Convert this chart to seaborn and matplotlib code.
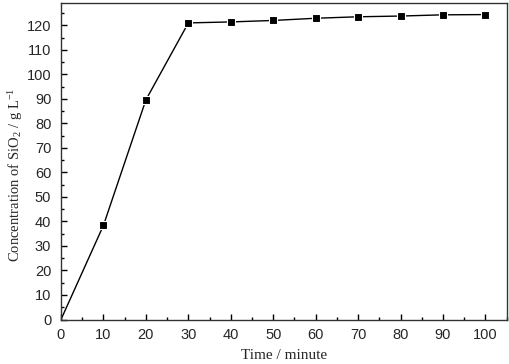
import matplotlib
matplotlib.use("Agg")
import matplotlib.pyplot as plt
import seaborn as sns
import pandas as pd
from matplotlib.ticker import MultipleLocator

time_min = [0, 10, 20, 30, 40, 50, 60, 70, 80, 90, 100]
conc = [0, 38.4, 89.6, 121.0, 121.4, 122.0, 122.9, 123.5, 123.8, 124.3, 124.4]

df = pd.DataFrame({"time": time_min, "conc": conc})

sns.set_theme(style="ticks")
plt.rcParams['font.family'] = ['Liberation Sans', 'DejaVu Sans']
plt.rcParams['mathtext.fontset'] = 'custom'
plt.rcParams['mathtext.rm'] = 'Liberation Serif'
plt.rcParams['mathtext.it'] = 'Liberation Serif:italic'
plt.rcParams['mathtext.default'] = 'rm'

fig = plt.figure(figsize=(5.1, 3.64), dpi=100)
ax = fig.add_axes([61/510, 1-319.5/364, (506.7-61)/510, (319.5-3.3)/364])

sns.lineplot(data=df, x="time", y="conc", ax=ax, color="black", lw=1.0)
sns.scatterplot(data=df.iloc[1:], x="time", y="conc", ax=ax, marker="s", s=36,
                color="black", edgecolor="white", linewidth=0.8, zorder=3)

ax.set_xlim(0, 105)
ax.set_ylim(0, 129)
ax.xaxis.set_major_locator(MultipleLocator(10))
ax.xaxis.set_minor_locator(MultipleLocator(5))
ax.yaxis.set_major_locator(MultipleLocator(10))
ax.yaxis.set_minor_locator(MultipleLocator(5))
ax.tick_params(which="major", direction="in", length=4, width=1, color="black",
               labelsize=10.5, top=False, right=False)
ax.tick_params(axis="x", which="major", pad=6)
ax.tick_params(axis="y", which="major", pad=7)
ax.tick_params(which="minor", direction="in", length=2.5, width=1, color="black",
               top=False, right=False)
for s in ax.spines.values():
    s.set_color("#333333")
    s.set_linewidth(1.0)

ax.set_xlabel("Time / minute", family=["Liberation Serif"], fontsize=11, labelpad=5)
ax.set_ylabel("Concentration of SiO$_2$ / g L$^{-1}$", family=["Liberation Serif"],
              fontsize=10.5)
ax.yaxis.set_label_coords(-0.081, 0.457)

fig.savefig("out.png", dpi=100)
